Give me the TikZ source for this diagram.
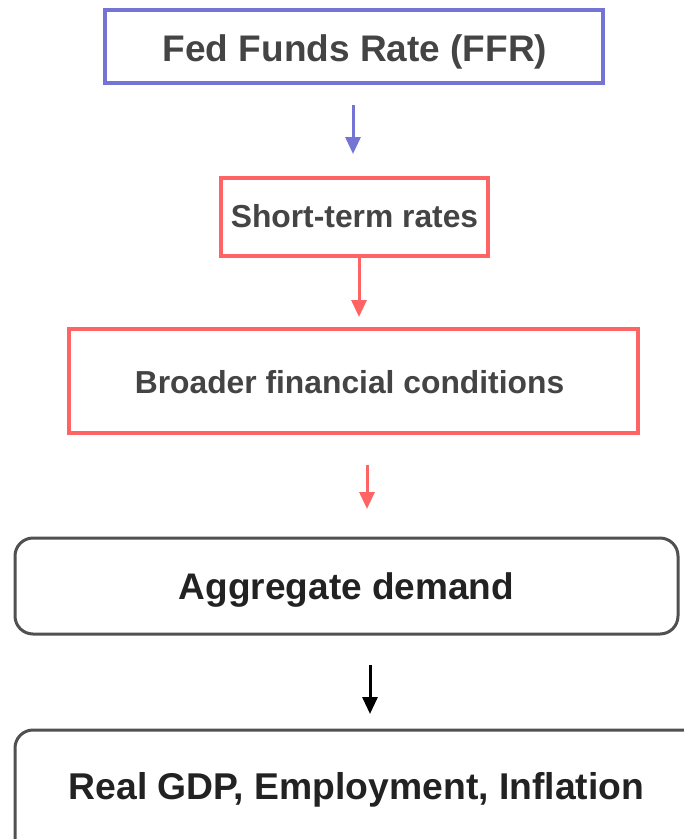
\documentclass[tikz,border=0pt]{standalone}
\usepackage{fontspec}
\setmainfont{Liberation Sans}
\usetikzlibrary{arrows.meta}
\definecolor{fedblue}{HTML}{7474D4}
\definecolor{fedred}{HTML}{FF6464}
\definecolor{boxgray}{HTML}{505050}
\definecolor{txtgray}{HTML}{444444}
\definecolor{txtdark}{HTML}{222222}
\tikzset{
  bluebox/.style={draw=fedblue, line width=3.5pt, fill=white},
  redbox/.style={draw=fedred, line width=3.5pt, fill=white},
  graybox/.style={draw=boxgray, line width=3pt, rounded corners=18pt, fill=white},
  lbl/.style={font=\bfseries\fontsize{#1}{#1}\selectfont, inner sep=0pt, anchor=base},
  conn/.style={line width=3pt, -{Triangle[width=15pt,length=17pt]}},
}
\begin{document}
\begin{tikzpicture}[x=1pt,y=-1pt]
\useasboundingbox (0,0) rectangle (684,839);
\clip (0,0) rectangle (684,839);
\draw[bluebox] (105,10) rectangle (603,83);
\node[lbl=37, text=txtgray] (ffr) at (355,61) {Fed Funds Rate (FFR)};
\coordinate (ffrb) at (353,105);
\draw[redbox] (221,178) rectangle (488,256);
\node[lbl=31.8, text=txtgray] (str) at (354.5,227) {Short-term rates};
\coordinate (strt) at (353,154);
\coordinate (strb) at (359,257);
\draw[redbox] (69,329) rectangle (638,433);
\node[lbl=31.8, text=txtgray] (bfc) at (349.5,393) {Broader financial conditions};
\coordinate (bfct) at (359,317);
\coordinate (bfcb) at (367,465);
\coordinate (adt) at (367,509);
\draw[graybox] (15,538) rectangle (678,634);
\node[lbl=37, text=txtdark] (ad) at (346.5,599) {Aggregate demand};
\coordinate (adb) at (370,665);
\coordinate (rgt) at (370,714);
\draw[graybox] (15,730) rectangle (700,860);
\node[lbl=37.3, text=txtdark] (rg) at (356.5,799) {Real GDP, Employment, Inflation};
\draw[conn, draw=fedblue, fill=fedblue] (ffrb) -- (strt);
\draw[conn, draw=fedred, fill=fedred] (strb) -- (bfct);
\draw[conn, draw=fedred, fill=fedred] (bfcb) -- (adt);
\draw[conn, draw=black, fill=black] (adb) -- (rgt);
\end{tikzpicture}
\end{document}
